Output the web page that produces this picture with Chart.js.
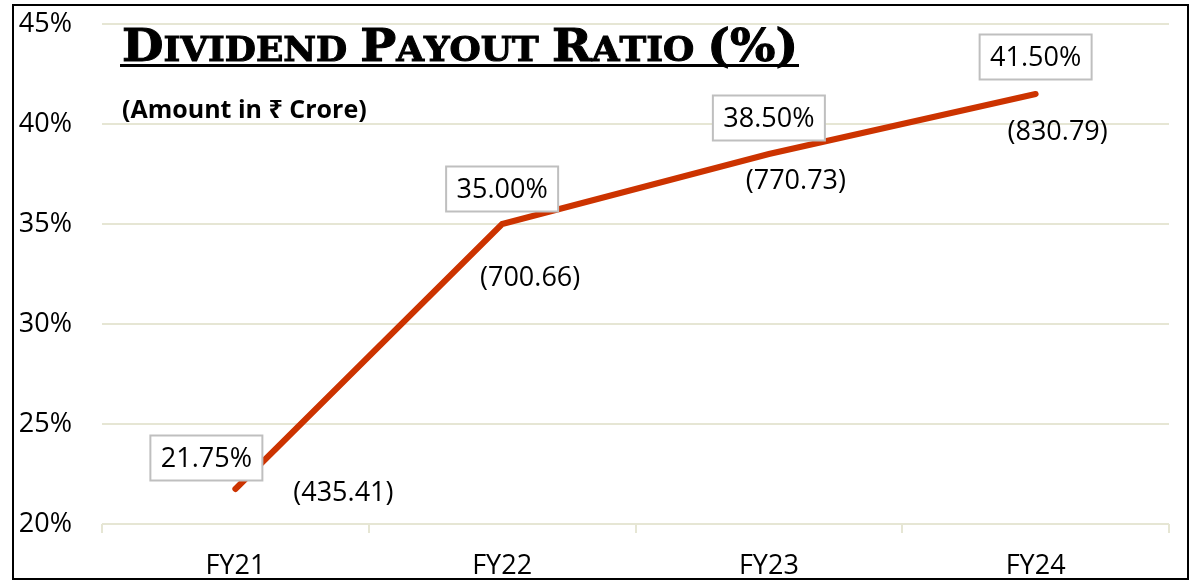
<!DOCTYPE html>
<html>
<head>
<meta charset="utf-8">
<script src="https://cdn.jsdelivr.net/npm/chart.js@4.4.1/dist/chart.umd.min.js"></script>
<style>
  html, body { margin: 0; padding: 0; background: #fff; }
  #wrap { width: 1191px; height: 584px; position: relative; }
</style>
</head>
<body>
<div id="wrap"><canvas id="payout-chart"></canvas></div>
<script>
// ── data ──
const years          = ['FY21', 'FY22', 'FY23', 'FY24'];
const payoutRatio    = [21.75, 35.00, 38.50, 41.50];
const dividendAmount = [435.41, 700.66, 770.73, 830.79];
const yMin = 20, yMax = 45, yStep = 5;

const titleText    = 'Dividend Payout Ratio (%)';
const subtitleText = '(Amount in ₹ Crore)';

// ── label placement (px offsets from the point) ──
const ratioBoxOffset  = [[-29, -31], [0, -35], [0, -36], [0, -37]];
const amountOffset    = [[108, 4], [28, 54], [27, 27], [22, 38]];

const FONT = "'Open Sans', 'Noto Sans', sans-serif";

function drawSmallCaps(ctx, text, x, baseline, bigSize, smallSize, targetW) {
  const family = "'DejaVu Serif', serif";
  const pieces = [];
  let startOfWord = true;
  for (const ch of text) {
    if (ch === ' ') { pieces.push({ ch, size: bigSize * 0.55 }); startOfWord = true; continue; }
    const isLetter = /[A-Za-z]/.test(ch);
    const big = !isLetter || startOfWord;
    pieces.push({ ch: ch.toUpperCase(), size: big ? bigSize : smallSize });
    startOfWord = false;
  }
  let total = 0;
  pieces.forEach(p => {
    ctx.font = `bold ${p.size}px ${family}`;
    p.w = p.ch === ' ' ? p.size * 0.5 : ctx.measureText(p.ch).width;
    total += p.w;
  });
  ctx.save();
  ctx.translate(x, baseline);
  ctx.scale(targetW / total, 1);
  ctx.fillStyle = '#000';
  ctx.strokeStyle = '#000';
  ctx.lineWidth = 1;
  ctx.textBaseline = 'alphabetic';
  ctx.textAlign = 'left';
  let cx = 0;
  pieces.forEach(p => {
    if (p.ch !== ' ') {
      ctx.font = `bold ${p.size}px ${family}`;
      ctx.fillText(p.ch, cx, 0);
      ctx.strokeText(p.ch, cx, 0);
    }
    cx += p.w;
  });
  ctx.restore();
}

const decorPlugin = {
  id: 'decor',
  afterDraw(chart) {
    const ctx = chart.ctx;
    ctx.save();
    // outer frame
    ctx.strokeStyle = '#000';
    ctx.lineWidth = 2;
    ctx.strokeRect(13, 5, 1175, 574);

    // title + underline
    drawSmallCaps(ctx, titleText, 122, 61, 44, 33, 676);
    ctx.fillStyle = '#000';
    ctx.fillRect(120, 64, 679, 3);

    // subtitle
    ctx.font = `bold 25px ${FONT}`;
    ctx.textAlign = 'left';
    ctx.textBaseline = 'middle';
    ctx.fillText(subtitleText, 122, 111);
    ctx.restore();
  },
  afterDatasetsDraw(chart) {
    const ctx = chart.ctx;
    const meta = chart.getDatasetMeta(0);
    ctx.save();
    ctx.font = `27px ${FONT}`;
    ctx.textAlign = 'center';
    ctx.textBaseline = 'middle';
    meta.data.forEach((pt, i) => {
      const [bx, by] = ratioBoxOffset[i];
      const cx = pt.x + bx, cy = pt.y + by;
      const w = 112, h = 45;
      ctx.fillStyle = '#fff';
      ctx.fillRect(cx - w / 2, cy - h / 2, w, h);
      ctx.strokeStyle = '#bfbfbf';
      ctx.lineWidth = 2;
      ctx.strokeRect(cx - w / 2, cy - h / 2, w, h);
      ctx.fillStyle = '#000';
      ctx.fillText(payoutRatio[i].toFixed(2) + '%', cx, cy + 1);

      const [ax, ay] = amountOffset[i];
      ctx.fillText('(' + dividendAmount[i].toFixed(2) + ')', pt.x + ax, pt.y + ay);
    });
    ctx.restore();
  }
};

new Chart(document.getElementById('payout-chart'), {
  type: 'line',
  data: {
    labels: years,
    datasets: [{
      data: payoutRatio,
      borderColor: '#cc3300',
      borderWidth: 6,
      borderCapStyle: 'round',
      pointRadius: 0,
      tension: 0,
      fill: false,
    }],
  },
  options: {
    responsive: true,
    maintainAspectRatio: false,
    animation: false,
    events: [],
    layout: { padding: { top: 24, right: 22, left: 0, bottom: 0 } },
    plugins: {
      legend:  { display: false },
      tooltip: { enabled: false },
      title:   { display: false },
    },
    scales: {
      x: {
        offset: true,
        grid:   { offset: true, drawOnChartArea: false, drawTicks: true, tickLength: 9, color: '#e6e6d4', lineWidth: 2 },
        border: { display: false },
        ticks:  { color: '#000', font: { family: FONT, size: 27 }, padding: 17 },
        afterFit: s => { s.height = 60; s.paddingLeft = 0; s.paddingRight = 0; },
      },
      y: {
        min: yMin,
        max: yMax,
        grid:   { drawTicks: false, color: '#e6e6d4', lineWidth: 2 },
        border: { display: false },
        ticks:  { stepSize: yStep, color: '#000', font: { family: FONT, size: 27 }, padding: 30, callback: v => v + '%' },
        afterFit: s => { s.width = 102; s.paddingTop = 0; s.paddingBottom = 0; },
      },
    },
  },
  plugins: [decorPlugin],
});
</script>
</body>
</html>
